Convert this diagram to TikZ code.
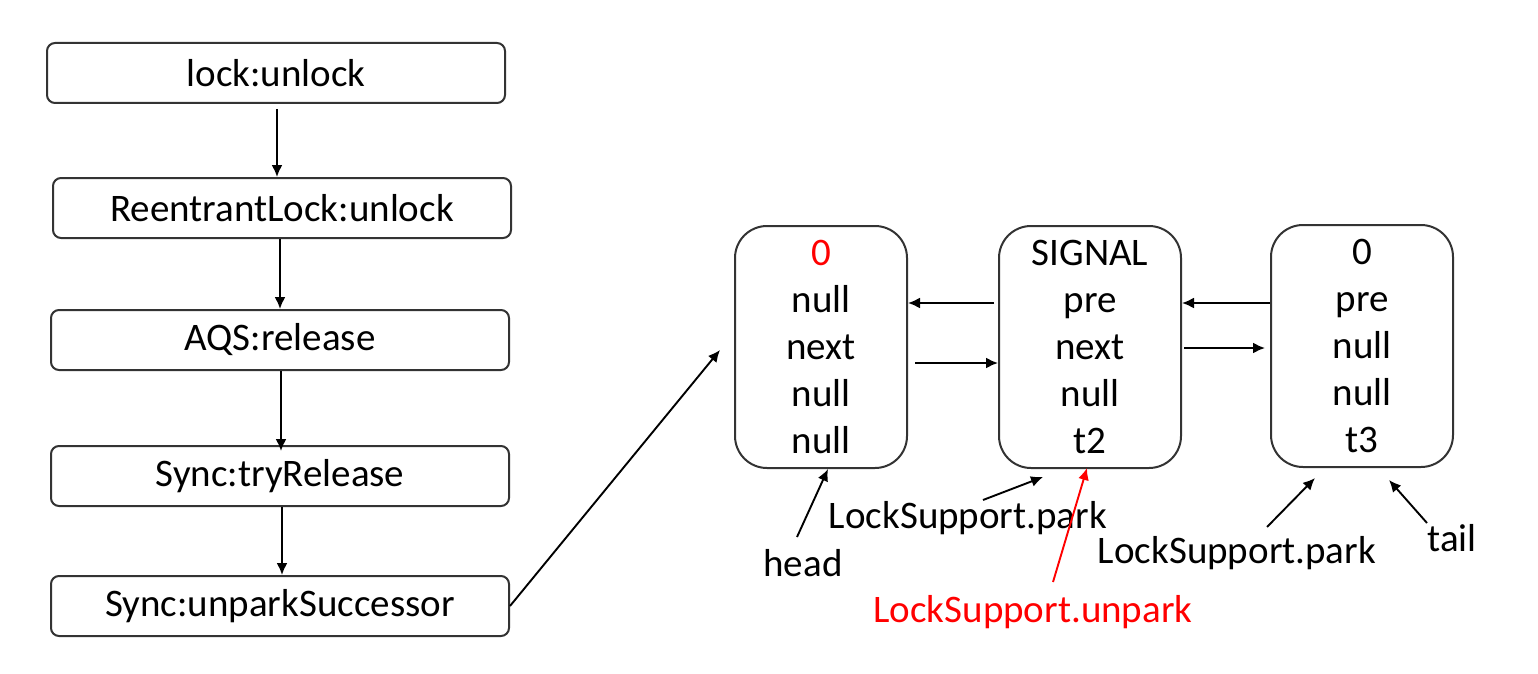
\documentclass[tikz,border=0pt]{standalone}
\usepackage{fontspec}
\setmainfont{Carlito}
\usetikzlibrary{arrows.meta}
\begin{document}
\begin{tikzpicture}[x=1pt,y=-1pt,
  flowbox/.style={draw=black!80,line width=2pt,rounded corners=8pt,minimum width=458pt,minimum height=60pt,inner sep=0pt,font=\fontsize{39}{44}\selectfont},
  qnode/.style={draw=black!80,line width=2pt,rounded corners=32pt,minimum width=#1,minimum height=242pt,inner sep=0pt,align=center,font=\fontsize{39}{47}\selectfont},
  lbl/.style={inner sep=0pt,font=\fontsize{39}{44}\selectfont},
  arr/.style={line width=1.9pt,-{Latex[length=12pt,width=11pt]}}
]
\useasboundingbox (0,0) rectangle (1538,674);
% left flow
\node[flowbox] (f1) at (276,73) {lock:unlock};
\node[flowbox] (f2) at (282,208) {ReentrantLock:unlock};
\node[flowbox] (f3) at (280,340) {AQS:release};
\node[flowbox] (f4) at (280,476) {Sync:tryRelease};
\node[flowbox] (f5) at (280,606) {Sync:unparkSuccessor};
\draw[arr] ([xshift=1pt,yshift=-5pt]f1.south) -- ([xshift=1pt]f2.north -| f1.south);
\draw[arr] (f2.south -| 280,0) -- (f3.north -| 280,0);
\draw[arr] (f3.south -| 281,0) -- ([yshift=-6pt]f4.north -| 281,0);
\draw[arr] (f4.south -| 282,0) -- (f5.north -| 282,0);
% queue nodes
\node[qnode=172pt] (qa) at (821,347) {\textcolor{red}{0}\\null\\next\\null\\null};
\node[qnode=182pt] (qb) at (1090,347) {SIGNAL\\pre\\next\\null\\t2};
\node[qnode=182pt] (qc) at (1362,346) {0\\pre\\null\\null\\t3};
\coordinate (qin) at (720,350);
\draw[arr] (f5.east) -- (qin);
\draw[arr] ([xshift=-4pt]qb.west |- 0,303) -- (qa.east |- 0,303);
\draw[arr] ([xshift=7pt]qa.east |- 0,363) -- (qb.west |- 0,363);
\draw[arr] (qc.west |- 0,303) -- (qb.east |- 0,303);
\draw[arr] ([xshift=2pt]qb.east |- 0,348) -- ([xshift=-5pt]qc.west |- 0,348);
% labels
\node[lbl] (head) at (803,563) {head};
\node[lbl] (park1) at (968,518) {LockSupport.park};
\node[lbl,text=red] (unpark) at (1033,612) {LockSupport.unpark};
\node[lbl] (park2) at (1237,553) {LockSupport.park};
\node[lbl] (tail) at (1452,538) {tail};
\coordinate (hs) at (797,537); \coordinate (he) at (828,469);
\coordinate (p1s) at (983,500); \coordinate (p1e) at (1043,477);
\coordinate (us) at (1053,582); \coordinate (ue) at (1087,468);
\coordinate (p2s) at (1267,527); \coordinate (p2e) at (1315,478);
\coordinate (ts) at (1427,523); \coordinate (te) at (1389,480);
\draw[arr] (hs) -- (he);
\draw[arr] (p1s) -- (p1e);
\draw[arr,red] (us) -- (ue);
\draw[arr] (p2s) -- (p2e);
\draw[arr] (ts) -- (te);
\end{tikzpicture}
\end{document}
